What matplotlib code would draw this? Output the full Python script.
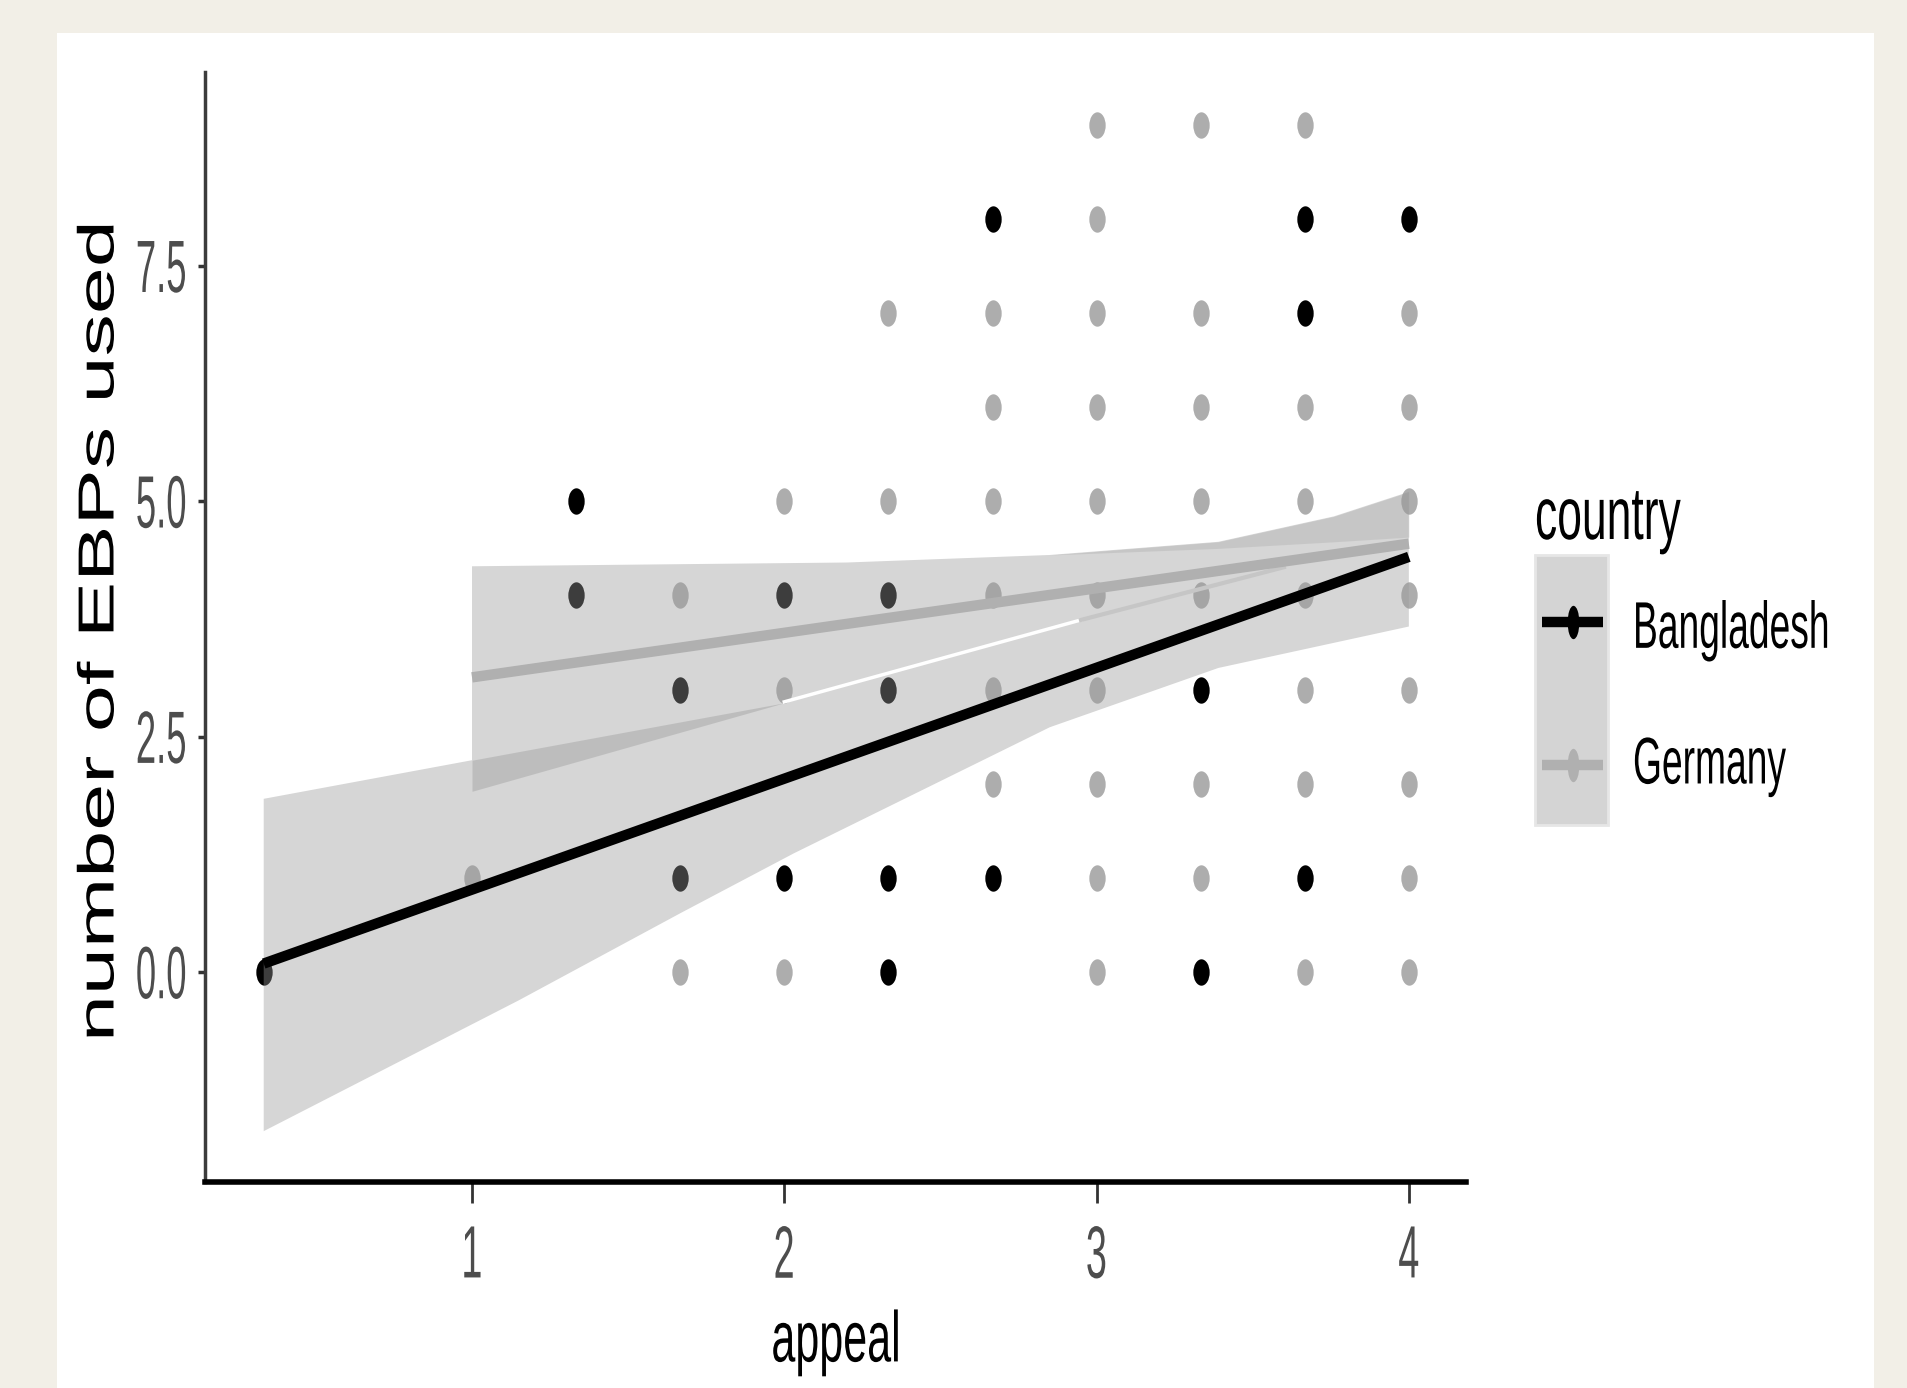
import matplotlib.pyplot as plt
from matplotlib.path import Path
from matplotlib.patches import Rectangle
from matplotlib.lines import Line2D
from matplotlib.patheffects import AbstractPathEffect
from matplotlib.transforms import Affine2D

# points: (appeal, number of EBPs used)
bangladesh_x = [0.333, 1.333, 1.333, 1.667, 1.667, 2.0, 2.0, 2.333, 2.333, 2.333, 2.333,
                2.667, 2.667, 3.333, 3.333, 3.667, 3.667, 3.667, 4.0]
bangladesh_y = [0, 5, 4, 3, 1, 4, 1, 4, 3, 1, 0, 8, 1, 3, 0, 8, 7, 1, 8]

germany_x = [3.0, 3.333, 3.667,
             3.0,
             2.333, 2.667, 3.0, 3.333, 4.0,
             2.667, 3.0, 3.333, 3.667, 4.0,
             2.0, 2.333, 2.667, 3.0, 3.333, 3.667, 4.0,
             1.667, 2.667, 3.0, 3.333, 3.667, 4.0,
             2.0, 2.667, 3.0, 3.667, 4.0,
             2.667, 3.0, 3.333, 3.667, 4.0,
             1.0, 3.0, 3.333, 4.0,
             1.667, 2.0, 3.0, 3.667, 4.0]
germany_y = [9, 9, 9,
             8,
             7, 7, 7, 7, 7,
             6, 6, 6, 6, 6,
             5, 5, 5, 5, 5, 5, 5,
             4, 4, 4, 4, 4, 4,
             3, 3, 3, 3, 3,
             2, 2, 2, 2, 2,
             1, 1, 1, 1,
             0, 0, 0, 0, 0]

# fitted lines
bangladesh_fit_x = [0.333, 4.0]
bangladesh_fit_y = [0.09, 4.41]
germany_fit_x = [1.0, 4.0]
germany_fit_y = [3.13, 4.55]

# confidence band outline (both countries together)
band_top_x = [0.333, 1.0, 1.0, 2.2, 2.85, 3.39, 3.76, 4.0]
band_top_y = [1.84, 2.25, 4.31, 4.35, 4.43, 4.57, 4.84, 5.10]
band_bottom_x = [0.333, 1.15, 1.67, 2.03, 2.85, 3.39, 4.0]
band_bottom_y = [-1.69, -0.30, 0.63, 1.26, 2.60, 3.23, 3.67]

# where the two bands overlap
overlap_x = [1.0, 2.0]
overlap_top = [2.25, 2.86]
overlap_bottom = [1.92, 2.86]
overlap2_x = [2.85, 3.39, 3.76, 4.0]
overlap2_top = [4.43, 4.57, 4.84, 5.10]
overlap2_bottom = [4.43, 4.50, 4.57, 4.62]

# seam left by the band edges
seam_x = [2.0, 2.95]
seam_y = [2.87, 3.74]
seam2_x = [2.95, 3.6]
seam2_y = [3.74, 4.3]

x_ticks = [1, 2, 3, 4]
x_tick_labels = ['1', '2', '3', '4']
y_ticks = [0, 2.5, 5.0, 7.5]
y_tick_labels = ['0.0', '2.5', '5.0', '7.5']
countries = ['Bangladesh', 'Germany']
country_colors = ['black', '#adadad']
line_colors = ['black', '#b0b0b0']


class Stretch(AbstractPathEffect):
    # stretches drawn text, to get the tall condensed look of the source picture
    def __init__(self, sx=1.0, sy=1.0 / 0.6, ax='center', ay='center'):
        super().__init__()
        self.sx = sx
        self.sy = sy
        self.ax = ax
        self.ay = ay

    def draw_path(self, renderer, gc, tpath, affine, rgbFace=None):
        pts = affine.transform(tpath.vertices)
        if self.ax == 'left':
            cx = pts[:, 0].min()
        elif self.ax == 'right':
            cx = pts[:, 0].max()
        else:
            cx = (pts[:, 0].min() + pts[:, 0].max()) / 2
        if self.ay == 'top':
            cy = pts[:, 1].max()
        else:
            cy = (pts[:, 1].min() + pts[:, 1].max()) / 2
        st = Affine2D().translate(-cx, -cy).scale(self.sx, self.sy).translate(cx, cy)
        renderer.draw_path(gc, tpath, affine + st, rgbFace)


plt.rcParams['font.family'] = ['Liberation Sans', 'DejaVu Sans']

# oval dots, as in the squeezed original
circ = Path.unit_circle()
dot = Path(circ.vertices * [0.62, 1.0], circ.codes)
key_dot = Path(circ.vertices * [0.35, 1.0], circ.codes)

W, H = 1908, 1388
fig = plt.figure(figsize=(W / 100, H / 100), dpi=100, facecolor='#f2efe7')
fig.patches.append(Rectangle((57 / W, 0), (1874 - 57) / W, (H - 33) / H,
                             transform=fig.transFigure, facecolor='white',
                             edgecolor='none', zorder=-5))

ax = fig.add_axes([205 / W, (H - 1182) / H, (1466 - 205) / W, (1182 - 72) / H])
ax.patch.set_alpha(0)

ax.plot(germany_x, germany_y, linestyle='none', marker=dot, markersize=19,
        markeredgewidth=0, color=country_colors[1], zorder=2)
ax.plot(bangladesh_x, bangladesh_y, linestyle='none', marker=dot, markersize=19,
        markeredgewidth=0, color=country_colors[0], zorder=2)

ax.fill(band_top_x + band_bottom_x[::-1], band_top_y + band_bottom_y[::-1],
        color='#999999', alpha=0.4, lw=0, zorder=3)
ax.fill_between(overlap_x, overlap_bottom, overlap_top, color='#999999',
                alpha=0.4, lw=0, zorder=3)
ax.fill_between(overlap2_x, overlap2_bottom, overlap2_top, color='#999999',
                alpha=0.25, lw=0, zorder=3)
ax.plot(seam_x, seam_y, color='white', lw=2.5, zorder=3.5)
ax.plot(seam2_x, seam2_y, color='#c6c6c6', lw=3, zorder=3.5)

ax.plot(germany_fit_x, germany_fit_y, color=line_colors[1], lw=7.5,
        solid_capstyle='butt', zorder=4)
ax.plot(bangladesh_fit_x, bangladesh_fit_y, color=line_colors[0], lw=7.5,
        solid_capstyle='butt', zorder=4)

ax.set_xlim(0.145, 4.183)
ax.set_ylim(-2.23, 9.56)

for s in ['top', 'right']:
    ax.spines[s].set_visible(False)
ax.spines['left'].set_color('#3c3c3c')
ax.spines['left'].set_linewidth(2.5)
ax.spines['bottom'].set_color('black')
ax.spines['bottom'].set_linewidth(4)

ax.set_xticks(x_ticks, labels=x_tick_labels)
ax.set_yticks(y_ticks, labels=y_tick_labels)
ax.tick_params(axis='x', length=15, width=2, color='#333333', pad=16,
               labelsize=32, labelcolor='#4d4d4d')
ax.tick_params(axis='y', length=5, width=2.5, color='#333333', pad=8,
               labelsize=32, labelcolor='#4d4d4d')
for lbl in ax.get_xticklabels():
    lbl.set_path_effects([Stretch(sx=0.85, ay='top')])
for lbl in ax.get_yticklabels():
    lbl.set_path_effects([Stretch(sx=0.82, ax='right')])

fig.text(836 / W, 1 - 1343 / H, 'appeal', fontsize=31, ha='center', va='center',
         path_effects=[Stretch()])
fig.text(100 / W, 1 - 632 / H, 'number of EBPs used', fontsize=36.5, rotation=90,
         ha='center', va='center', path_effects=[Stretch()])

# legend drawn by hand
fig.text(1535 / W, 1 - 521 / H, 'country', fontsize=32, ha='left', va='center',
         path_effects=[Stretch(ax='left')])
fig.patches.append(Rectangle((1535 / W, 1 - 825 / H), 73 / W, 270 / H,
                             transform=fig.transFigure, facecolor='#d4d4d4',
                             edgecolor='#e6e6e6', lw=2))
key_y = [622, 765]
label_y = [630, 766]
for name, c, ky, ly in zip(countries, line_colors, key_y, label_y):
    fig.lines.append(Line2D([1542 / W, 1603 / W], [1 - ky / H, 1 - ky / H],
                            transform=fig.transFigure, color=c, lw=7.5,
                            solid_capstyle='butt'))
    fig.lines.append(Line2D([1573 / W], [1 - ky / H], transform=fig.transFigure,
                            linestyle='none', marker=key_dot, markersize=24,
                            markeredgewidth=0, color=c))
    fig.text(1633 / W, 1 - ly / H, name, fontsize=28.5, ha='left', va='center',
             path_effects=[Stretch(sx=0.94, ax='left')])

fig.savefig('out.png', dpi=100, facecolor=fig.get_facecolor())
